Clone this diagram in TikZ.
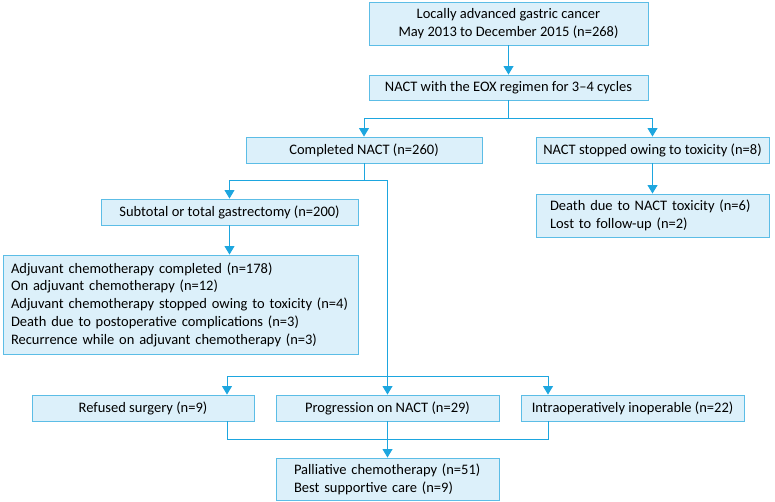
\documentclass[tikz,border=0pt]{standalone}
\usepackage{fontspec}
\setmainfont{Carlito}
\usepackage{tikz}
\usetikzlibrary{arrows.meta, positioning, calc}
\definecolor{boxfill}{HTML}{DCF0FA}
\definecolor{boxline}{HTML}{5CBDE6}
\definecolor{flowblue}{HTML}{1DA6DF}

\begin{document}
\begin{tikzpicture}[x=1pt, y=-1pt,
  stage/.style={rectangle, draw=boxline, fill=boxfill, line width=0.9pt, inner sep=0pt,
    minimum height=26pt, align=center, font=\fontsize{14.5}{17.75}\selectfont},
  listing/.style={stage, align=left, inner ysep=0pt},
  line/.style={flowblue, line width=0.9pt},
  arrow/.style={line, -{Triangle[width=10pt, length=8.5pt]}}
]
  \useasboundingbox (0,0) rectangle (775,502);

  % top of the flow
  \node[stage, minimum width=279pt, minimum height=43pt] (start) at (508.5,23.5)
    {Locally advanced gastric cancer\\May 2013 to December 2015 (n=268)};
  \node[stage, minimum width=279pt, minimum height=25pt] (eox) at (508.5,87.5)
    {NACT with the EOX regimen for 3--4 cycles};

  \node[stage, minimum width=236pt] (done) at (364,150) {Completed NACT (n=260)};
  \node[stage, minimum width=233pt] (stopped) at (652.5,150) {NACT stopped owing to toxicity (n=8)};
  \node[listing, text width=205pt, inner xsep=14pt, minimum height=43pt] (death) at (652.5,215.5)
    {Death due to NACT toxicity (n=6)\\Lost to follow-up (n=2)};

  % surgery branch
  \node[stage, minimum width=257pt] (surgery) at (229.5,212) {Subtotal or total gastrectomy (n=200)};
  \node[listing, text width=339pt, inner xsep=8pt, minimum height=99pt] (adjuvant) at (180.5,304.5)
    {Adjuvant chemotherapy completed (n=178)\\
     On adjuvant chemotherapy (n=12)\\
     Adjuvant chemotherapy stopped owing to toxicity (n=4)\\
     Death due to postoperative complications (n=3)\\
     Recurrence while on adjuvant chemotherapy (n=3)};

  % no resection
  \node[stage, minimum width=222pt] (refused) at (143,408) {Refused surgery (n=9)};
  \node[stage, minimum width=223pt] (progress) at (387.5,408) {Progression on NACT (n=29)};
  \node[stage, minimum width=223pt] (inoperable) at (632.5,408) {Intraoperatively inoperable (n=22)};
  \node[listing, text width=187pt, inner xsep=18pt, minimum height=42pt] (palliative) at (387.5,479)
    {Palliative chemotherapy (n=51)\\Best supportive care (n=9)};

  \coordinate (split) at (508.5,118);
  \coordinate (fork) at (364,180);
  \coordinate (lft) at (227,376);
  \coordinate (rgt) at (548,376);

  \draw[arrow] (start) -- (eox);
  \draw[arrow] (eox.south) -- (split) -| (done);
  \draw[arrow] (split) -| (stopped);
  \draw[arrow] (stopped) -- (death);
  \draw[arrow] (done.south) -- (fork) -| (surgery);
  \draw[arrow] (fork) -| (progress);
  \draw[arrow] (surgery) -- (surgery |- adjuvant.north);
  \draw[line] (lft) -- (rgt);
  \draw[arrow] (lft) -- (lft |- refused.north);
  \draw[arrow] (rgt) -- (rgt |- inoperable.north);
  \draw[line] (refused.south -| lft) -- ++(0,18) -| (inoperable.south -| rgt);
  \draw[arrow] (progress) -- (palliative);
\end{tikzpicture}
\end{document}
